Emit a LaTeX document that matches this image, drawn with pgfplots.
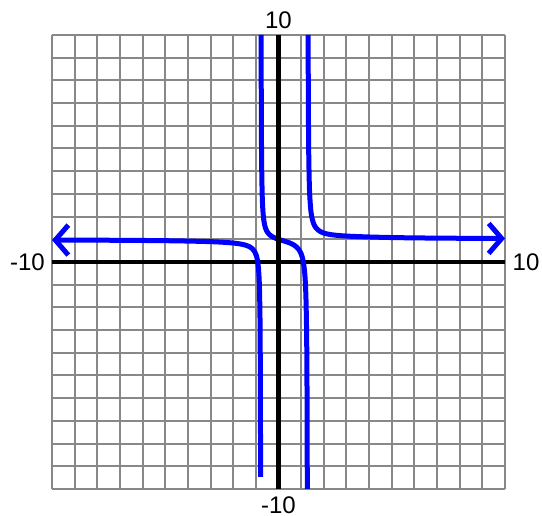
\documentclass[border=0pt]{standalone}
\usepackage{pgfplots}
\pgfplotsset{compat=1.18}
\usepackage{fontspec}
\setmainfont{Liberation Sans}
\usetikzlibrary{arrows.meta}

\definecolor{gridgray}{HTML}{888888}
\definecolor{curve}{HTML}{0000FF}

\begin{document}
\fontsize{24}{28}\selectfont
\begin{tikzpicture}
\path[use as bounding box] (-52pt,-27pt) rectangle (490pt,489pt);
\begin{axis}[
  at={(0,0)}, anchor=south west,
  scale only axis, width=453pt, height=454pt,
  xmin=-10, xmax=10, ymin=-10, ymax=10,
  xtick={-10,...,10}, ytick={-10,...,10},
  xticklabels={}, yticklabels={},
  major tick length=0pt,
  grid=major, major grid style={draw=gridgray, line width=2pt},
  axis line style={draw=none},
  clip=false,
]
% x axis
\addplot[black, line width=4.6pt, line cap=butt] coordinates {(-10,0) (10,0)};

% left branch, x < -0.78
\addplot[curve, line width=5pt, smooth, {Straight Barb[length=13pt,width=30pt]}-] coordinates {
  (-10,0.968) (-9,0.965) (-8,0.961) (-7,0.955) (-6,0.948) (-5,0.938)
  (-4,0.922) (-3,0.896) (-2.5,0.873) (-2,0.836) (-1.7,0.796) (-1.5,0.754)
  (-1.3,0.682) (-1.15,0.580) (-1.05,0.452) (-0.98,0.288) (-0.93,0.078)
  (-0.89,-0.225) (-0.86,-0.650) (-0.84,-1.169) (-0.82,-2.206) (-0.81,-3.243)
  (-0.80,-5.316) (-0.795,-7.388) (-0.792,-9.461)
};

% middle branch, -0.78 < x < 1.29
\addplot[curve, line width=5pt, smooth] coordinates {
  (-0.7663,10.0) (-0.765,9.19) (-0.76,7.117) (-0.75,5.044) (-0.74,4.007)
  (-0.72,2.970) (-0.70,2.451) (-0.67,2.026) (-0.63,1.722) (-0.58,1.512)
  (-0.5,1.329) (-0.4,1.206) (-0.3,1.130) (-0.2,1.076) (-0.1,1.035) (0,1.0)
  (0.1,0.968) (0.2,0.938) (0.3,0.907) (0.4,0.874) (0.5,0.837) (0.6,0.792)
  (0.7,0.735) (0.8,0.659) (0.9,0.547) (1.0,0.361) (1.05,0.211) (1.1,-0.016)
  (1.15,-0.405) (1.18,-0.806) (1.2,-1.222) (1.22,-1.876) (1.24,-3.051)
  (1.25,-4.080) (1.26,-5.794) (1.265,-7.165) (1.2714,-10.0)
};

% right branch, x > 1.29
\addplot[curve, line width=5pt, smooth, -{Straight Barb[length=13pt,width=30pt]}] coordinates {
  (1.3089,10.0) (1.312,8.714) (1.32,6.669) (1.33,5.264) (1.34,4.421)
  (1.36,3.457) (1.38,2.921) (1.42,2.343) (1.47,1.982) (1.55,1.692)
  (1.65,1.510) (1.8,1.370) (2.0,1.274) (2.3,1.207) (2.7,1.163) (3.2,1.132)
  (4,1.102) (5,1.077) (6,1.062) (7,1.052) (8,1.045) (9,1.039) (10,1.035)
};

% y axis
\addplot[black, line width=4.6pt, line cap=butt] coordinates {(0,-10) (0,10)};

\node[anchor=base, inner sep=0pt, yshift=6pt] at (axis cs:0,10) {10};
\node[anchor=base, inner sep=0pt, yshift=-25pt] at (axis cs:0,-10) {-10};
\node[anchor=base east, inner sep=0pt, xshift=-7pt, yshift=-8.6pt] at (axis cs:-10,0) {-10};
\node[anchor=base west, inner sep=0pt, xshift=7.5pt, yshift=-8.6pt] at (axis cs:10,0) {10};
\end{axis}
\end{tikzpicture}
\end{document}
